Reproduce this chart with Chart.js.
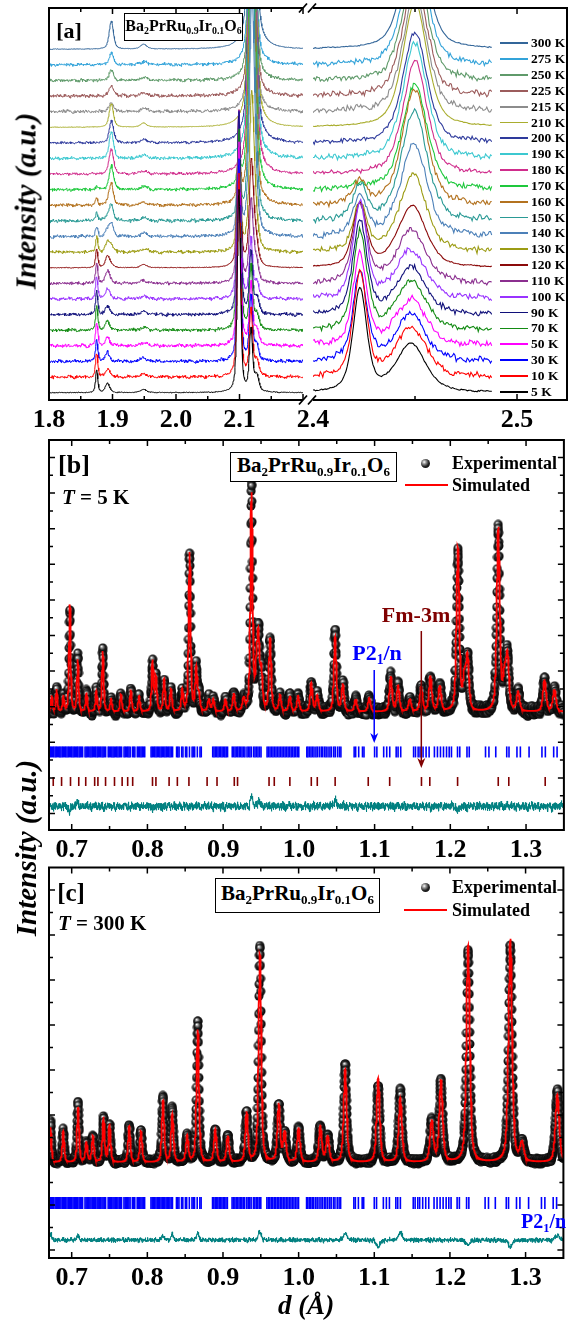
<!DOCTYPE html>
<html>
<head>
<meta charset="utf-8">
<title>Ba2PrRu0.9Ir0.1O6 diffraction</title>
<script src="https://cdn.jsdelivr.net/npm/chart.js@4.4.1/dist/chart.umd.min.js"></script>
<style>
  body { margin: 0; background: #fff; }
  #fig { position: relative; width: 571px; height: 1320px; overflow: hidden;
         font-family: "Liberation Serif", "Times New Roman", serif; font-weight: bold; color: #000; }
  #fig canvas { position: absolute; left: 0; }
  .t { position: absolute; white-space: nowrap; line-height: 1; transform: translate(0, -50%); }
  .c { transform: translate(-50%, -50%); }
  .box { position: absolute; border: 1.3px solid #000; background: #fff; box-sizing: border-box;
         text-align: center; white-space: nowrap; }
  .box span { position: relative; line-height: 1; }
  sub { font-size: 0.62em; vertical-align: baseline; position: relative; top: 0.32em; line-height: 0; }
  .ytitle { position: absolute; font-style: italic; font-size: 29px; white-space: nowrap; line-height: 1;
            transform: translate(-50%, -50%) rotate(-90deg); }
  .ball { position: absolute; width: 9px; height: 9px; border-radius: 50%;
          background: radial-gradient(circle at 36% 34%, #fff 0, #999 22%, #222 55%, #000 100%); }
  .swatch { position: absolute; height: 2px; }
</style>
</head>
<body>
<div id="fig">
  <canvas id="aLeft" width="571" height="450" style="top:0"></canvas>
  <canvas id="aRight" width="571" height="450" style="top:0"></canvas>
  <canvas id="panelB" width="571" height="450" style="top:430px"></canvas>
  <canvas id="panelC" width="571" height="450" style="top:858px"></canvas>

  <div class="ytitle" style="left:26px;top:201px">Intensity (a.u.)</div>
  <div class="ytitle" style="left:26px;top:848px">Intensity (a.u.)</div>
  <div class="t c" style="left:306px;top:1305px;font-size:27px;font-style:italic">d (Å)</div>

  <!-- panel a -->
  <div class="t c" style="left:69px;top:31px;font-size:22px">[a]</div>
  <div class="box" style="left:124px;top:13px;width:119px;height:28px;line-height:24px;font-size:16px"><span>Ba<sub>2</sub>PrRu<sub>0.9</sub>Ir<sub>0.1</sub>O<sub>6</sub></span></div>
  <div id="aLegend"></div>

  <!-- panel b -->
  <div class="t c" style="left:74px;top:465px;font-size:26px">[b]</div>
  <div class="t" style="left:62px;top:497px;font-size:21px"><i>T</i> = 5 K</div>
  <div class="box" style="left:230px;top:452px;width:167px;height:30px;line-height:25px;font-size:21px"><span>Ba<sub>2</sub>PrRu<sub>0.9</sub>Ir<sub>0.1</sub>O<sub>6</sub></span></div>
  <div class="ball" style="left:421px;top:458.5px"></div>
  <div class="t" style="left:452px;top:463px;font-size:18px">Experimental</div>
  <div class="swatch" style="left:405px;top:484px;width:43px;background:#ff0000"></div>
  <div class="t" style="left:452px;top:485px;font-size:18px">Simulated</div>
  <div class="t c" style="left:416px;top:615px;font-size:22px;color:#800000">Fm-3m</div>
  <div class="t c" style="left:377px;top:653px;font-size:22px;color:#0000ff">P2<sub>1</sub>/n</div>

  <!-- panel c -->
  <div class="t c" style="left:71px;top:892px;font-size:25px">[c]</div>
  <div class="t" style="left:58px;top:923px;font-size:21px"><i>T</i> = 300 K</div>
  <div class="box" style="left:215px;top:878px;width:165px;height:35px;line-height:29px;font-size:21px"><span>Ba<sub>2</sub>PrRu<sub>0.9</sub>Ir<sub>0.1</sub>O<sub>6</sub></span></div>
  <div class="ball" style="left:420.5px;top:882.5px"></div>
  <div class="t" style="left:452px;top:887px;font-size:18px">Experimental</div>
  <div class="swatch" style="left:404px;top:909px;width:43px;background:#ff0000"></div>
  <div class="t" style="left:452px;top:910px;font-size:18px">Simulated</div>
  <div class="t" style="left:521px;top:1221px;font-size:20px;color:#0000ff">P2<sub>1</sub>/n</div>
</div>

<script>
// ---------- panel (a): patterns vs temperature ----------
const temps = [5, 10, 30, 50, 70, 90, 100, 110, 120, 130, 140, 150, 160, 170, 180, 190, 200, 210, 215, 225, 250, 275, 300];
const aColors = ['#000000', '#ff0000', '#0000ff', '#ff00ff', '#138b13', '#10107a', '#9933ff', '#8b2f8f', '#8b0a0a',
                 '#9c9c14', '#4c80b8', '#2a9a95', '#b3721f', '#1ec83c', '#d02d8c', '#3cc8d0', '#2e3a9c', '#a9ad2e',
                 '#8c8c8c', '#9c5c5c', '#5f9a6a', '#33a3d9', '#336699'];

// peak heights (in units of the curve offset) per temperature, left part 1.8-2.2
const h1875 = [1.45, 1.5, 1.45, 1.45, 1.5, 1.5, 1.45, 1.3, 1.2, 1.0, 0.6, 0.5, 0.45, 0.2, 0, 0, 0, 0, 0, 0, 0, 0, 0];
const h1892 = [0.6, 0.55, 0.55, 0.55, 0.6, 0.55, 0.7, 0.75, 0.75, 0.6, 0.4, 0.3, 0.15, 0, 0, 0, 0, 0, 0, 0, 0, 0, 0];
const h1898 = [0, 0, 0, 0, 0, 0, 0, 0.1, 0.15, 0.4, 0.75, 1.0, 1.35, 1.55, 1.65, 1.7, 1.4, 1.5, 0.6, 0.7, 0.65, 0.75, 1.8];
const h1949 = [0.2, 0.2, 0.2, 0.2, 0.2, 0.2, 0.2, 0.2, 0.2, 0.2, 0.2, 0.2, 0.2, 0.2, 0.2, 0.2, 0.2, 0.25, 0.2, 0.2, 0.2, 0.2, 0.3];
const h2099 = [13, 13, 13, 13, 13, 13, 12, 11, 10, 8, 6, 4, 3, 1.5, 0, 0, 0, 0, 0, 0, 0, 0, 0];
const h2118 = [4, 4.3, 4.1, 4, 4, 4, 3.8, 3.5, 3.2, 2.6, 1.8, 1.2, 0.8, 0.4, 0, 0, 0, 0, 0, 0, 0, 0, 0];
const h2127 = [1, 1, 1, 1, 1, 1, 1, 0.9, 0.8, 0.6, 0.4, 0.3, 0.2, 0.1, 0, 0, 0, 0, 0, 0, 0, 0, 0];
const h2120 = [0, 0, 0, 0, 0, 0, 0, 2, 4, 8, 14, 18, 22, 26, 30, 30, 30, 30, 20, 20, 20, 20, 30];
// right part 2.40-2.49
const h2423 = [6.6, 6.5, 5.7, 5.8, 6.2, 6.0, 6.0, 5.0, 4.0, 3.0, 2.5, 2.2, 1.4, 0.3, 0, 0, 0, 0, 0, 0, 0, 0, 0];
const h2448 = [3.1, 3.2, 3.0, 3.0, 3.1, 3.0, 3.1, 3.1, 3.0, 2.5, 2.0, 1.5, 0.8, 0.3, 0, 0, 0, 0, 0, 0, 0, 0, 0];
const h2450 = [0, 0, 0, 0, 0, 0, 0, 0.3, 1.0, 2.5, 4.0, 5.6, 6.7, 6.5, 7.2, 7.4, 7.1, 8, 7.5, 7.5, 7.5, 7.5, 8];
const noiseA = [0.06, 0.25, 0.25, 0.25, 0.25, 0.25, 0.25, 0.22, 0.06, 0.25, 0.25, 0.25, 0.25, 0.25, 0.2, 0.25, 0.2,
                0.04, 0.25, 0.25, 0.25, 0.25, 0.04];
const aLeftTicks = [1.8, 1.9, 2.0, 2.1];
const aRightTicks = [2.4, 2.5];

// ---------- panel (b): T = 5 K ----------
const bPeakD = [0.6735, 0.680, 0.689, 0.6975, 0.708, 0.7195, 0.7325, 0.741, 0.752, 0.765, 0.778, 0.789, 0.8067, 0.8112,
                0.822, 0.831, 0.846, 0.8557, 0.8644, 0.868, 0.881, 0.887, 0.903, 0.914, 0.927, 0.9374, 0.9440, 0.9466,
                0.9505, 0.9619, 0.975, 0.988, 0.999, 1.0164, 1.0243, 1.0478, 1.058, 1.075, 1.093, 1.1213, 1.131, 1.1465,
                1.1615, 1.1737, 1.186, 1.21, 1.2185, 1.2227, 1.2633, 1.2715, 1.2755, 1.2895, 1.3244, 1.3375];
const bCalc = [300, 470, 280, 2850, 1300, 375, 420, 1545, 200, 330, 470, 280, 1265, 800, 750, 470, 450, 4310, 1030, 300,
               200, 200, 200, 350, 200, 5950, 900, 1700, 900, 1870, 300, 280, 280, 650, 300, 1930, 610, 200, 240, 840,
               560, 200, 525, 840, 560, 4420, 700, 1310, 4990, 700, 1310, 380, 750, 470];
const bObs = [300, 470, 280, 2670, 1400, 375, 420, 1545, 200, 330, 470, 280, 1170, 800, 750, 470, 450, 4310, 1030, 300,
              200, 200, 200, 350, 200, 6250, 900, 1825, 900, 1870, 300, 280, 280, 650, 300, 2110, 610, 200, 240, 840,
              560, 200, 525, 840, 560, 4310, 700, 1310, 4990, 700, 1310, 380, 750, 470];

// ---------- panel (c): T = 300 K ----------
const cPeakD = [0.672, 0.6888, 0.7084, 0.7194, 0.728, 0.742, 0.750, 0.776, 0.7915, 0.8207, 0.833, 0.8526, 0.8666, 0.8898,
                0.9063, 0.9312, 0.9488, 0.9737, 0.9815, 0.9999, 1.0287, 1.0383, 1.0615, 1.1051, 1.1344, 1.1759, 1.1881,
                1.224, 1.2798, 1.2952, 1.342];
const cObs = [850, 630, 1260, 380, 520, 930, 780, 740, 630, 1410, 1110, 520, 3040, 670, 520, 1040, 4760, 1220, 600, 710,
              740, 520, 2150, 1630, 1560, 850, 1740, 4630, 4740, 350, 1560];
const cCalc = [720, 630, 1150, 380, 520, 930, 780, 740, 630, 1300, 1000, 520, 2890, 670, 520, 1040, 4560, 1220, 600, 710,
               740, 520, 2000, 1800, 1380, 850, 1740, 4750, 4900, 350, 1450];

// reflection positions
const p21nD = [
  0.6702, 0.6718, 0.6731, 0.6749, 0.6763, 0.6781, 0.6796, 0.6810, 0.6829, 0.6843, 0.6858, 0.6876, 0.6889, 0.6907,
  0.6921, 0.6938, 0.6955, 0.6969, 0.6987, 0.7001, 0.7018, 0.7034, 0.7049, 0.7066, 0.7080, 0.7098, 0.7113, 0.7129,
  0.7144, 0.7176, 0.7191, 0.7207, 0.7222, 0.7240, 0.7255, 0.7271, 0.7286, 0.7303, 0.7318, 0.7336, 0.7350, 0.7367,
  0.7382, 0.7400, 0.7415, 0.7431, 0.7448, 0.7482, 0.7497, 0.7514, 0.7530, 0.7546, 0.7561, 0.7579, 0.7595, 0.7611,
  0.7628, 0.7643, 0.7659, 0.7691, 0.7707, 0.7724, 0.7740, 0.7756, 0.7772, 0.7802, 0.7818, 0.7834, 0.7866, 0.7882,
  0.7898, 0.7915, 0.7931, 0.7948, 0.7964,
  0.8048, 0.8064, 0.8081, 0.8097, 0.8114, 0.8131, 0.8147, 0.8164, 0.8181, 0.8197, 0.8214, 0.8231, 0.8248, 0.8264,
  0.8281, 0.8298, 0.8315, 0.8332,
  0.8385, 0.8401, 0.8418, 0.8452, 0.8469, 0.8503, 0.8520, 0.8555, 0.8590, 0.8607, 0.8624, 0.8659, 0.8694, 0.8711,
  0.8862, 0.8879, 0.8897, 0.8914, 0.8932, 0.8950, 0.8968, 0.8986, 0.9004, 0.9022, 0.9040, 0.9058,
  0.9120, 0.9138, 0.9157, 0.9175, 0.9193, 0.9212, 0.9230, 0.9249, 0.9268, 0.9287,
  0.9315, 0.9334, 0.9353, 0.9372, 0.9402, 0.9421, 0.9441, 0.9460, 0.9480, 0.9500,
  0.9580, 0.9599, 0.9619, 0.9639, 0.9658, 0.9678, 0.9698, 0.9718, 0.9738, 0.9758, 0.9778, 0.9798, 0.9818, 0.9838,
  0.9858, 0.9878, 0.9898, 0.9918, 0.9938, 0.9959, 0.9979, 0.9999,
  1.0105, 1.0120, 1.0140, 1.0160, 1.0180, 1.0200, 1.0225, 1.0245, 1.0270, 1.0295, 1.0315, 1.0340, 1.0360, 1.0385,
  1.0410, 1.0430, 1.0460, 1.0480, 1.0510, 1.0535, 1.0555,
  1.0730, 1.0750, 1.0790, 1.0840, 1.0860, 1.1000, 1.1030, 1.1120, 1.1160, 1.1200, 1.1285, 1.1310, 1.1345,
  1.1515, 1.1540, 1.1575, 1.1600, 1.1640, 1.1680, 1.1720, 1.1790, 1.1830, 1.1870, 1.1910, 1.1950, 1.1985, 1.2015,
  1.2095, 1.2125, 1.2220, 1.2250, 1.2465, 1.2510, 1.2600, 1.2745, 1.2775, 1.2880, 1.2925, 1.3040,
  1.3210, 1.3255, 1.3365, 1.3410];
const fm3mD = [0.6756, 0.6866, 0.6984, 0.7093, 0.7185, 0.7303, 0.7346, 0.7447, 0.7565, 0.7666, 0.7739, 0.7805, 0.8067,
               0.8112, 0.8286, 0.8395, 0.8548, 0.8788, 0.8919, 0.9147, 0.9190, 0.9606, 0.9675, 0.9881, 1.0164, 1.0243,
               1.0479, 1.0916, 1.1199, 1.1619, 1.1729, 1.2096, 1.2633, 1.2772, 1.3253];
const refTicks = [0.7, 0.8, 0.9, 1.0, 1.1, 1.2, 1.3];

// counting noise, hand-tabulated
const ripple = [0.31, -0.52, 0.84, -0.18, 0.07, -0.91, 0.63, 0.22, -0.41, 0.72, -0.68, 0.03, 0.49, -0.27, -0.83, 0.95,
                0.12, -0.61, 0.38, 0.27, -0.09, -0.47, 0.79, -0.94, 0.18, 0.58, -0.33, 0.04, -0.72, 0.51, 0.88, -0.37,
                0.09, -0.21, 0.69, -0.81, 0.26, -0.12, 0.61, -0.57, -0.02, 0.43, -0.88, 0.76, -0.29, 0.17, -0.53, 0.92,
                -0.14, 0.47, -0.74, 0.33, 0.11, -0.42, 0.64, -0.23, -0.79, 0.71, 0.01, -0.31, 0.39, -0.63, 0.21, 0.82];

function jitter(k, s) {
  const n = ripple.length;
  return 0.55 * ripple[(k * 7 + s) % n] + 0.3 * ripple[Math.floor(k * 2.6 + s * 3) % n] +
         0.25 * ripple[Math.floor(k / 9 + s) % n];
}

// pseudo-Voigt line shape
function profile(x, x0, fwhm) {
  const t = 2 * (x - x0) / fwhm, t2 = t * t;
  return 0.5 / (1 + t2) + 0.5 * Math.exp(-0.693 * t2);
}

const leftPeaks = [[1.875, 0.0042, h1875], [1.892, 0.008, h1892], [1.898, 0.008, h1898], [1.949, 0.012, h1949],
                   [2.099, 0.006, h2099], [2.118, 0.006, h2118], [2.127, 0.008, h2127], [2.120, 0.010, h2120]];
const rightPeaks = [[2.423, 0.008, h2423], [2.448, 0.017, h2448], [2.450, 0.014, h2450]];

function tempCurve(i, lo, hi, step, peaks, noiseScale) {
  const pts = [];
  const n = Math.round((hi - lo) / step);
  for (let k = 0; k <= n; k++) {
    const x = lo + k * step;
    let y = i;
    for (const [x0, w, h] of peaks) if (h[i]) y += h[i] * profile(x, x0, w);
    y += noiseA[i] * noiseScale * jitter(k, i * 5);
    pts.push({ x, y });
  }
  return pts;
}

const dGrid = [];
for (let k = 0; k <= 2720; k++) dGrid.push(0.67 + k * 0.00025);

function refinement(peakD, tops, bg, res, noiseAmp, seed) {
  return dGrid.map((d, k) => {
    let y = bg;
    peakD.forEach((p, j) => { y += (tops[j] - bg) * profile(d, p, res * p); });
    if (noiseAmp) y += noiseAmp * jitter(k, seed);
    return y;
  });
}

// shaded ball used for the measured points
const ball = document.createElement('canvas');
ball.width = ball.height = 10;
{
  const g = ball.getContext('2d');
  const grad = g.createRadialGradient(3.6, 3.4, 0.2, 5, 5, 5);
  grad.addColorStop(0, '#ffffff');
  grad.addColorStop(0.22, '#999999');
  grad.addColorStop(0.55, '#222222');
  grad.addColorStop(1, '#000000');
  g.fillStyle = grad;
  g.beginPath(); g.arc(5, 5, 4.5, 0, Math.PI * 2); g.fill();
}

const tickFont = { family: '"Liberation Serif", "Times New Roman", serif', size: 26, weight: 'bold' };

function baseOptions(xmin, xmax, ymin, ymax, pad, labelTicks) {
  return {
    responsive: false, animation: false, events: [],
    layout: { padding: pad },
    plugins: { legend: { display: false }, tooltip: { enabled: false } },
    scales: {
      x: {
        type: 'linear', min: xmin, max: xmax,
        grid: { display: false, drawTicks: false }, border: { display: false },
        ticks: { color: '#000', padding: 5, maxRotation: 0, autoSkip: false, font: tickFont,
                 callback: v => v.toFixed(1) },
        afterBuildTicks: s => { s.ticks = labelTicks.map(v => ({ value: v })); },
        afterFit: s => { s.height = 50; }
      },
      y: { type: 'linear', display: false, min: ymin, max: ymax }
    }
  };
}

// frame, inward tick marks, optional axis break
function framePlugin(cfg) {
  return {
    id: 'frame',
    afterDatasetsDraw(chart) {
      const { ctx, chartArea: a, scales: { x, y } } = chart;
      ctx.save();
      ctx.strokeStyle = '#000';
      ctx.lineWidth = 1.5;
      const xt = (list, len) => list.forEach(v => {
        const px = x.getPixelForValue(v);
        ctx.beginPath();
        ctx.moveTo(px, a.bottom); ctx.lineTo(px, a.bottom - len);
        ctx.moveTo(px, a.top); ctx.lineTo(px, a.top + len);
        ctx.stroke();
      });
      xt(cfg.xMajor, 6);
      xt(cfg.xMinor, 4);
      if (cfg.yTicks) {
        cfg.yTicks.forEach(v => {
          const py = y.getPixelForValue(v), len = v % 1000 === 0 ? 6 : 4;
          ctx.beginPath();
          ctx.moveTo(a.left, py); ctx.lineTo(a.left + len, py);
          ctx.moveTo(a.right, py); ctx.lineTo(a.right - len, py);
          ctx.stroke();
        });
      }
      ctx.lineWidth = 2;
      ctx.beginPath();
      if (cfg.sides === 'left') {
        ctx.moveTo(a.right, a.top); ctx.lineTo(a.left, a.top); ctx.lineTo(a.left, a.bottom); ctx.lineTo(a.right, a.bottom);
      } else if (cfg.sides === 'right') {
        ctx.moveTo(a.left, a.top); ctx.lineTo(a.right, a.top); ctx.lineTo(a.right, a.bottom); ctx.lineTo(a.left, a.bottom);
      } else {
        ctx.rect(a.left, a.top, a.width, a.height);
      }
      ctx.stroke();
      if (cfg.breakMarks) {
        ctx.lineWidth = 1.8;
        [a.top, a.bottom].forEach(yy => {
          ctx.beginPath();
          ctx.moveTo(a.right - 4, yy + 4.5); ctx.lineTo(a.right + 4, yy - 4.5);
          ctx.moveTo(a.right + 5, yy + 4.5); ctx.lineTo(a.right + 13, yy - 4.5);
          ctx.stroke();
        });
      }
      ctx.restore();
    }
  };
}

// phase marker arrows in panel b
const arrowsB = [[1.0995, 1030, -1020, '#0000ff'], [1.1617, 2126, -1720, '#800000']];
const arrowPlugin = {
  id: 'arrows',
  afterDatasetsDraw(chart) {
    const { ctx, scales: { x, y } } = chart;
    ctx.save();
    arrowsB.forEach(([d, y0, y1, col]) => {
      const px = x.getPixelForValue(d), p0 = y.getPixelForValue(y0), p1 = y.getPixelForValue(y1);
      ctx.strokeStyle = col; ctx.fillStyle = col; ctx.lineWidth = 1.5;
      ctx.beginPath(); ctx.moveTo(px, p0); ctx.lineTo(px, p1 - 6); ctx.stroke();
      ctx.beginPath(); ctx.moveTo(px, p1); ctx.lineTo(px - 4, p1 - 10); ctx.lineTo(px, p1 - 7);
      ctx.lineTo(px + 4, p1 - 10); ctx.closePath(); ctx.fill();
    });
    ctx.restore();
  }
};

// ---------- build panel (a) ----------
const aY = [-0.47, 24.64];
new Chart(document.getElementById('aLeft'), {
  type: 'scatter',
  data: {
    datasets: temps.map((t, i) => ({
      label: t + ' K', data: tempCurve(i, 1.8, 2.2, 0.0008, leftPeaks, 0.6),
      showLine: true, borderColor: aColors[i], borderWidth: 1, pointRadius: 0
    }))
  },
  options: baseOptions(1.8, 2.2, aY[0], aY[1], { left: 49, right: 268, top: 8, bottom: 0 }, aLeftTicks),
  plugins: [framePlugin({ sides: 'left', xMajor: [1.8, 1.9, 2.0, 2.1, 2.2], xMinor: [1.85, 1.95, 2.05, 2.15], breakMarks: true })]
});
new Chart(document.getElementById('aRight'), {
  type: 'scatter',
  data: {
    datasets: temps.map((t, i) => ({
      label: t + ' K', data: tempCurve(i, 2.4, 2.4875, 0.0006, rightPeaks, 1.1),
      showLine: true, borderColor: aColors[i], borderWidth: 1.1, pointRadius: 0
    }))
  },
  options: baseOptions(2.4, 2.5245, aY[0], aY[1], { left: 313, right: 4, top: 8, bottom: 0 }, aRightTicks),
  plugins: [framePlugin({ sides: 'right', xMajor: [2.5], xMinor: [2.45] })]
});

// legend of panel (a)
const legendBox = document.getElementById('aLegend');
temps.forEach((t, i) => {
  const row = temps.length - 1 - i;
  const yy = 43.3 + row * 15.84;
  const sw = document.createElement('div');
  sw.className = 'swatch';
  sw.style.cssText = `left:500px;top:${yy - 0.9}px;width:28px;height:1.8px;background:${aColors[i]}`;
  const tx = document.createElement('div');
  tx.className = 't';
  tx.style.cssText = `left:531px;top:${yy}px;font-size:13.5px`;
  tx.textContent = t + ' K';
  legendBox.appendChild(sw);
  legendBox.appendChild(tx);
});

// ---------- build panels (b) and (c) ----------
function refinementChart(id, sim, obs, diffBase, ymin, ymax, tickRows, extra, yTicks, plugins) {
  const pts = arr => arr.map((v, k) => ({ x: dGrid[k], y: v }));
  const datasets = [
    { label: 'Simulated', data: pts(sim), showLine: true, borderColor: '#ff0000', borderWidth: 1.8, pointRadius: 0, order: 0 },
    { label: 'Experimental', data: pts(obs), showLine: false, pointStyle: ball, pointRadius: 4.5, order: 4 },
    { label: 'Difference', data: pts(obs.map((v, k) => v - sim[k] + diffBase)), showLine: true,
      borderColor: '#008080', borderWidth: 1, pointRadius: 0, order: 1 }
  ];
  tickRows.forEach(([list, yv, col, r]) => datasets.push({
    data: list.map(d => ({ x: d, y: yv })), showLine: false, pointStyle: 'line', pointRotation: 90,
    pointRadius: r, pointBorderColor: col, pointBorderWidth: 1.6, order: 2
  }));
  new Chart(document.getElementById(id), {
    type: 'scatter',
    data: { datasets },
    options: baseOptions(0.67, 1.35, ymin, ymax, extra, refTicks),
    plugins: [framePlugin({ sides: 'all', xMajor: refTicks,
                            xMinor: [0.75, 0.85, 0.95, 1.05, 1.15, 1.25], yTicks }), ...plugins]
  });
}

const bgB = -150, bgC = -60;
const simB = refinement(bPeakD, bCalc, bgB, 0.0037, 0, 0);
const obsB = refinement(bPeakD, bObs, bgB, 0.0037, 170, 3);
const simC = refinement(cPeakD, cCalc, bgC, 0.0045, 0, 0);
const obsC = refinement(cPeakD, cObs, bgC, 0.0045, 80, 17);

const yTicksB = [], yTicksC = [];
for (let v = -3000; v <= 7000; v += 500) yTicksB.push(v);
for (let v = -2000; v <= 6000; v += 500) yTicksC.push(v);

refinementChart('panelB', simB, obsB, -2800, -3463, 7492,
  [[p21nD, -1270, '#0000ff', 5.5], [fm3mD, -2100, '#800000', 4.5]],
  { left: 49, right: 4, top: 10, bottom: 0 }, yTicksB, [arrowPlugin]);
refinementChart('panelC', simC, obsC, -1780, -2178, 6500,
  [[p21nD, -955, '#0000ff', 6]],
  { left: 49, right: 4, top: 9.5, bottom: 0 }, yTicksC, []);
</script>
</body>
</html>
